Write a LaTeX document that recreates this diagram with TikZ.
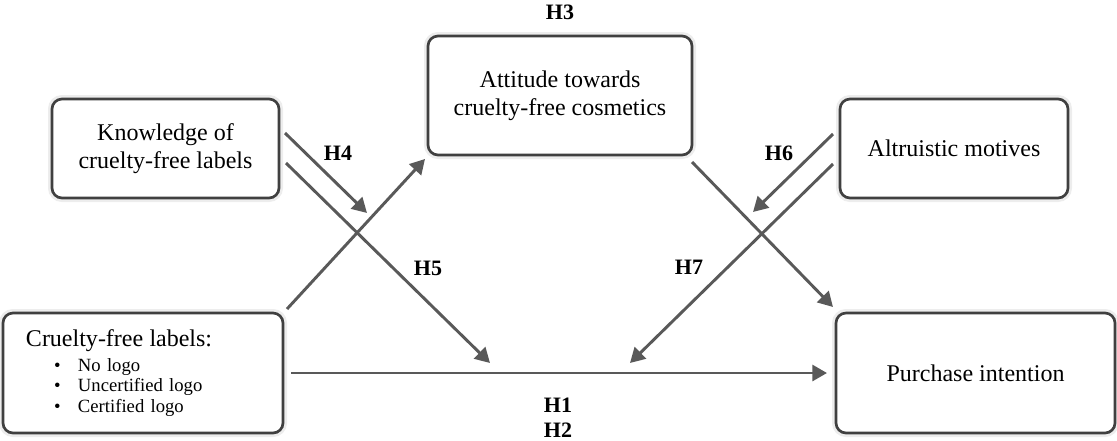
\documentclass[tikz,border=0pt]{standalone}
\usepackage{fontspec}
\setmainfont{Liberation Serif}
\usetikzlibrary{calc,positioning,arrows.meta}

\begin{document}
\begin{tikzpicture}[x=0.75pt,y=-0.75pt,
    box/.style={draw=black!75,line width=2pt,rounded corners=7.5pt,fill=white,align=center,inner sep=0pt,outer sep=0pt,font=\fontsize{18}{21}\selectfont,preaction={draw=black!7,line width=6pt}},
    hyp/.style={font=\fontsize{16.5}{18}\selectfont\bfseries},
    arr/.style={-{Triangle[length=11pt,width=12pt]},draw=black!65,line width=2.2pt}]
    \useasboundingbox (0,0) rectangle (1117,440);

    \node[box,minimum width=170.25pt,minimum height=74.25pt] (know) at (165.5,148.5) {Knowledge of\\cruelty-free labels};
    \node[box,minimum width=198pt,minimum height=89.25pt] (att) at (560,95.5) {Attitude towards\\cruelty-free cosmetics};
    \node[box,minimum width=171pt,minimum height=74.25pt] (alt) at (954,148.5) {Altruistic motives};
    \node[box,align=left,text width=175.5pt,inner xsep=17.25pt,minimum height=90pt,font=\fontsize{14}{15.4}\selectfont] (lab) at (143,373)
        {{\fontsize{18}{21}\selectfont Cruelty-free labels:}\\[3.4pt]
         \makebox[39pt][l]{\hspace{21pt}\textbullet}No logo\\
         \makebox[39pt][l]{\hspace{21pt}\textbullet}Uncertified logo\\
         \makebox[39pt][l]{\hspace{21pt}\textbullet}Certified logo};
    \node[box,minimum width=209.25pt,minimum height=90pt] (pi) at (975.5,373) {Purchase intention};

    \node[hyp] (h3) at (560,12) {H3};
    \node[hyp] (h4) at (338,153) {H4};
    \node[hyp] (h5) at (428,268) {H5};
    \node[hyp] (h6) at (779,153) {H6};
    \node[hyp] (h7) at (689,267) {H7};
    \node[hyp] (h1) at (558,405) {H1};
    \node[hyp] (h2) at (558,430) {H2};

    \coordinate (h4end) at (367,213);
    \coordinate (h5end) at (490,363);
    \coordinate (h6end) at (753,212);
    \coordinate (h7end) at (630,363);

    \draw[arr] ($(lab.north east)+(4,-4)$) -- ($(att.south west)+(-3,4)$);
    \draw[arr] ($(att.south east)+(0,7)$) -- ($(pi.north west)+(-3,-6)$);
    \draw[arr] ($(lab.east)+(8,0)$) -- ($(pi.west)+(-9,0)$);
    \draw[arr] ($(know.east)+(6,-15.5)$) -- (h4end);
    \draw[arr] ($(know.east)+(7,14.5)$) -- (h5end);
    \draw[arr] ($(alt.west)+(-7,-14.5)$) -- (h6end);
    \draw[arr] ($(alt.west)+(-7,15.5)$) -- (h7end);
\end{tikzpicture}
\end{document}
